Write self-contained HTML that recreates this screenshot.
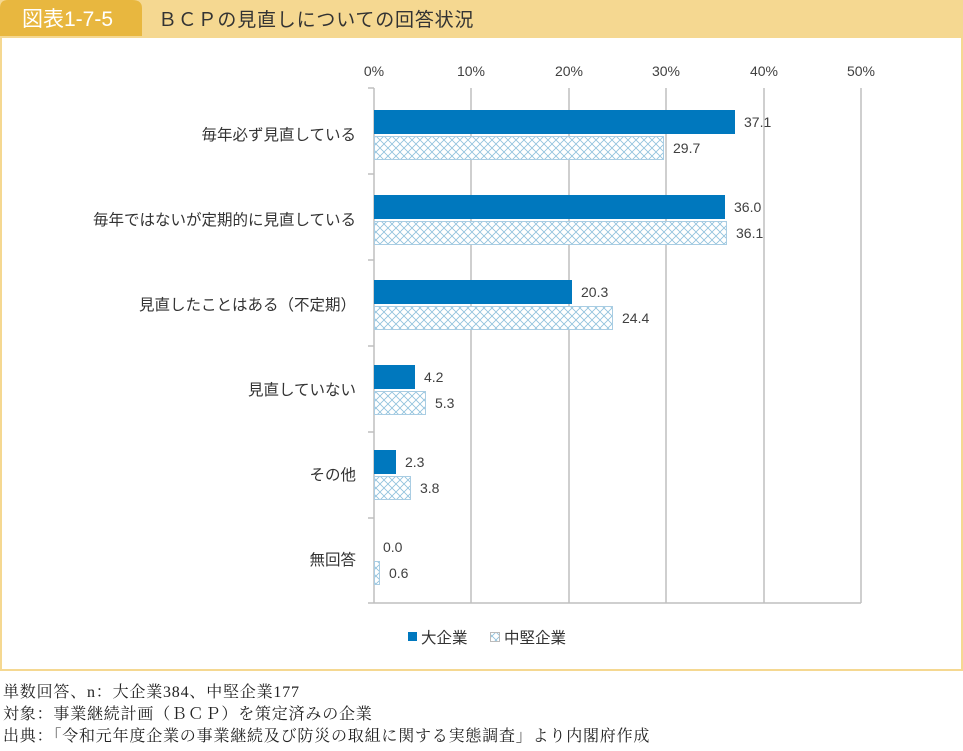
<!DOCTYPE html>
<html><head><meta charset="utf-8"><style>
body{margin:0;background:#fff;width:963px;height:746px;overflow:hidden;font-family:"Liberation Sans","Noto Sans CJK JP",sans-serif;}
</style></head><body>
<svg width="963" height="746" xmlns="http://www.w3.org/2000/svg" font-family="Liberation Sans, Noto Sans CJK JP, sans-serif">
<defs>
<pattern id="h" width="8" height="8" patternUnits="userSpaceOnUse">
<rect width="8" height="8" fill="#fff"/>
<path d="M0 0L8 8M8 0L0 8" stroke="#8fc1dc" stroke-width="0.8"/>
</pattern>
</defs>
<rect x="0" y="0" width="963" height="37" fill="#f5d891"/>
<path d="M0 8 Q0 0 8 0 H132 Q142 0 142 8 V37 H0 Z" fill="#e8b73f"/>
<text x="22" y="26" font-size="21" fill="#fff">図表1-7-5</text>
<text x="158" y="26" font-size="19" fill="#333" letter-spacing="0.8">ＢＣＰの見直しについての回答状況</text>
<rect x="1" y="37" width="961" height="633" fill="none" stroke="#f5d891" stroke-width="2"/>
<g stroke="#bfbfbf" stroke-width="1.5">
<line x1="374" y1="88" x2="374" y2="603"/>
<line x1="471" y1="88" x2="471" y2="603"/>
<line x1="569" y1="88" x2="569" y2="603"/>
<line x1="666" y1="88" x2="666" y2="603"/>
<line x1="764" y1="88" x2="764" y2="603"/>
<line x1="861" y1="88" x2="861" y2="603"/>
<line x1="368" y1="603" x2="861" y2="603"/>
<line x1="368" y1="88" x2="374" y2="88"/>
<line x1="368" y1="174" x2="374" y2="174"/>
<line x1="368" y1="260" x2="374" y2="260"/>
<line x1="368" y1="346" x2="374" y2="346"/>
<line x1="368" y1="432" x2="374" y2="432"/>
<line x1="368" y1="518" x2="374" y2="518"/>
</g>
<g font-size="14" fill="#404040" text-anchor="middle">
<text x="374" y="76">0%</text><text x="471" y="76">10%</text><text x="569" y="76">20%</text>
<text x="666" y="76">30%</text><text x="764" y="76">40%</text><text x="861" y="76">50%</text>
</g>
<g font-size="15.5" fill="#333" text-anchor="end">
<text x="356" y="140">毎年必ず見直している</text>
<text x="356" y="225">毎年ではないが定期的に見直している</text>
<text x="356" y="310">見直したことはある（不定期）</text>
<text x="356" y="395">見直していない</text>
<text x="356" y="480">その他</text>
<text x="356" y="565">無回答</text>
</g>
<g fill="#0078be">
<rect x="374" y="110" width="361" height="24"/>
<rect x="374" y="195" width="351" height="24"/>
<rect x="374" y="280" width="198" height="24"/>
<rect x="374" y="365" width="41" height="24"/>
<rect x="374" y="450" width="22" height="24"/>
</g>
<g fill="url(#h)" stroke="#a9cde3" stroke-width="1">
<rect x="374.5" y="136.5" width="289" height="23"/>
<rect x="374.5" y="221.5" width="352" height="23"/>
<rect x="374.5" y="306.5" width="238" height="23"/>
<rect x="374.5" y="391.5" width="51" height="23"/>
<rect x="374.5" y="476.5" width="36" height="23"/>
<rect x="374.5" y="561.5" width="5" height="23"/>
</g>
<g font-size="14" fill="#404040">
<text x="744" y="127">37.1</text><text x="673" y="153">29.7</text>
<text x="734" y="212">36.0</text><text x="736" y="238">36.1</text>
<text x="581" y="297">20.3</text><text x="622" y="323">24.4</text>
<text x="424" y="382">4.2</text><text x="435" y="408">5.3</text>
<text x="405" y="467">2.3</text><text x="420" y="493">3.8</text>
<text x="383" y="552">0.0</text><text x="389" y="578">0.6</text>
</g>
<rect x="408" y="632" width="9" height="9" fill="#0078be"/>
<text x="421" y="643" font-size="15.5" fill="#333">大企業</text>
<rect x="490.5" y="632.5" width="9" height="9" fill="url(#h)" stroke="#bbb"/>
<text x="504" y="643" font-size="15.5" fill="#333">中堅企業</text>
<g font-size="16" fill="#222" font-family="Liberation Serif, Noto Serif CJK SC, serif" letter-spacing="0.8">
<text x="3" y="697">単数回答、n：大企業384、中堅企業177</text>
<text x="3" y="719">対象：事業継続計画（ＢＣＰ）を策定済みの企業</text>
<text x="3" y="741">出典：「令和元年度企業の事業継続及び防災の取組に関する実態調査」より内閣府作成</text>
</g>
</svg>
</body></html>
